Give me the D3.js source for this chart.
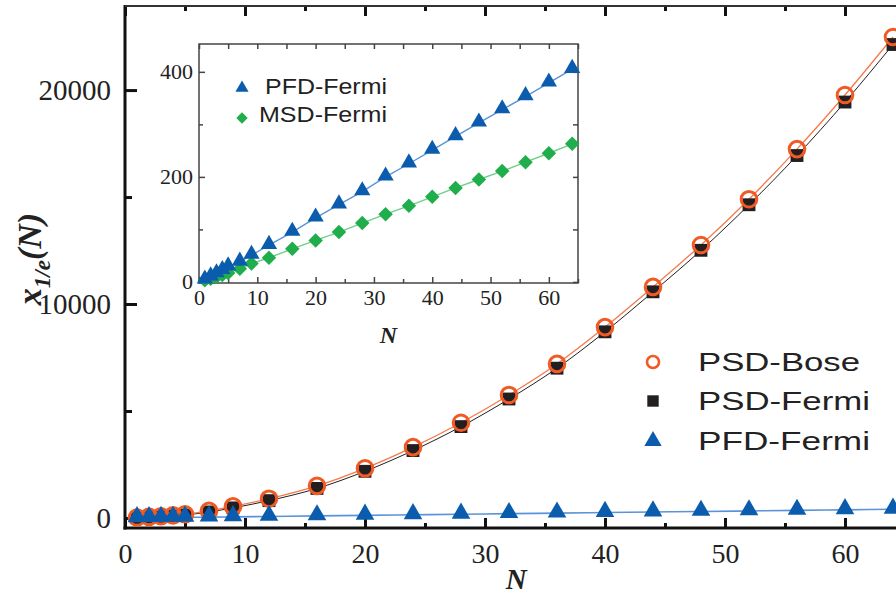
<!DOCTYPE html>
<html>
<head>
<meta charset="utf-8">
<script src="https://cdn.jsdelivr.net/npm/d3@7"></script>
<style>
  html, body { margin: 0; padding: 0; background: #fff; }
  svg { display: block; }
  .serif { font-family: "Liberation Serif", "DejaVu Serif", serif; }
  .sans { font-family: "Liberation Sans", Arial, sans-serif; }
</style>
</head>
<body>
<svg id="chart" width="896" height="597"></svg>
<script>
// Particle number N at which each quantity is evaluated
const nValues = [1, 2, 3, 4, 5, 7, 9, 12, 16, 20, 24, 28, 32, 36, 40, 44, 48, 52, 56, 60, 64];

// x_{1/e}(N) for each distribution
const psdBose  = [20, 50, 80, 120, 170, 330, 540, 900, 1500, 2320, 3310, 4450, 5750, 7200, 8920, 10800, 12760, 14900, 17240, 19770, 22480];
const psdFermi = [10, 35, 60, 95, 140, 280, 470, 810, 1380, 2180, 3150, 4270, 5560, 7000, 8700, 10570, 12510, 14640, 16940, 19440, 22130];
const pfdFermi = [4, 10, 16, 22, 29, 38, 51, 70, 95, 122, 147, 172, 200, 225, 251, 277, 303, 328, 353, 379, 405];
const msdFermi = [3, 6, 10, 13, 17, 25, 35, 46, 63, 79, 95, 112, 129, 145, 162, 179, 195, 211, 228, 245, 263];

// Tick values
const mainXTicks = [0, 10, 20, 30, 40, 50, 60];
const mainXMinor = [5, 15, 25, 35, 45, 55, 65];
const mainYTicks = [0, 10000, 20000];
const mainYMinor = [5000, 15000];
const insetXTicks = [0, 10, 20, 30, 40, 50, 60];
const insetXMinor = [5, 15, 25, 35, 45, 55, 65];
const insetYTicks = [0, 200, 400];
const insetYMinor = [100, 300];

const mainLegend = ["PSD-Bose", "PSD-Fermi", "PFD-Fermi"];
const insetLegend = ["PFD-Fermi", "MSD-Fermi"];

const C = {
  orange: "#f15a24",
  orangeLine: "#f47a4a",
  black: "#231f20",
  blue: "#0b5cad",
  blueLine: "#5b93d8",
  green: "#1fae4b",
  greenLine: "#6fcf8a"
};

const svg = d3.select("#chart");

// ---------- main panel ----------
const x = d3.scaleLinear().domain([0, 70]).range([125, 965]);
const y = d3.scaleLinear().domain([-470, 23930]).range([528, 6]);

const main = svg.append("g");

function styleAxis(g, width, color) {
  g.select(".domain").remove();
  g.selectAll(".tick line").attr("stroke", color).attr("stroke-width", width);
}

// bottom axis with labels (ticks point inward)
main.append("g")
  .attr("transform", `translate(0,${y.range()[0]})`)
  .call(d3.axisBottom(x).tickValues(mainXTicks).tickSizeInner(-10).tickSizeOuter(0).tickPadding(15))
  .call(g => styleAxis(g, 3, "#111"))
  .call(g => g.selectAll("text").attr("class", "serif").attr("font-size", 28).attr("fill", "#222"));
main.append("g")
  .attr("transform", `translate(0,${y.range()[0]})`)
  .call(d3.axisBottom(x).tickValues(mainXMinor).tickSizeInner(-5).tickSizeOuter(0).tickFormat(""))
  .call(g => styleAxis(g, 3, "#111"));

// top axis (ticks only)
main.append("g")
  .attr("transform", `translate(0,${y.range()[1]})`)
  .call(d3.axisTop(x).tickValues(mainXTicks).tickSizeInner(-10).tickSizeOuter(0).tickFormat(""))
  .call(g => styleAxis(g, 3, "#111"));
main.append("g")
  .attr("transform", `translate(0,${y.range()[1]})`)
  .call(d3.axisTop(x).tickValues(mainXMinor).tickSizeInner(-5).tickSizeOuter(0).tickFormat(""))
  .call(g => styleAxis(g, 3, "#111"));

// left axis with labels
main.append("g")
  .attr("transform", `translate(${x.range()[0]},0)`)
  .call(d3.axisLeft(y).tickValues(mainYTicks).tickSizeInner(-12).tickSizeOuter(0).tickPadding(14).tickFormat(d3.format("d")))
  .call(g => styleAxis(g, 3, "#111"))
  .call(g => g.selectAll("text").attr("class", "serif").attr("font-size", 29).attr("fill", "#222"));
main.append("g")
  .attr("transform", `translate(${x.range()[0]},0)`)
  .call(d3.axisLeft(y).tickValues(mainYMinor).tickSizeInner(-7).tickSizeOuter(0).tickFormat(""))
  .call(g => styleAxis(g, 3, "#111"));

// frame lines
main.append("line").attr("x1", x.range()[0]).attr("x2", x.range()[0])
  .attr("y1", y.range()[1] - 1).attr("y2", y.range()[0] + 1.5)
  .attr("stroke", "#111").attr("stroke-width", 3);
main.append("line").attr("x1", x.range()[0] - 1.5).attr("x2", x.range()[1])
  .attr("y1", y.range()[0]).attr("y2", y.range()[0])
  .attr("stroke", "#111").attr("stroke-width", 3);
main.append("line").attr("x1", x.range()[0]).attr("x2", x.range()[1])
  .attr("y1", y.range()[1]).attr("y2", y.range()[1])
  .attr("stroke", "#333").attr("stroke-width", 2);

// axis titles
svg.append("text").attr("class", "serif")
  .attr("x", x(32.6)).attr("y", 589)
  .attr("text-anchor", "middle")
  .attr("font-size", 29).attr("font-weight", "bold").attr("font-style", "italic")
  .attr("fill", "#222").text("N");

const yTitle = svg.append("text").attr("class", "serif")
  .attr("transform", "translate(41,259) rotate(-90)")
  .attr("text-anchor", "middle")
  .attr("font-size", 34).attr("font-weight", "bold").attr("font-style", "italic")
  .attr("fill", "#222");
yTitle.append("tspan").text("x");
yTitle.append("tspan").attr("font-size", 23).attr("dy", 9).text("1/e");
yTitle.append("tspan").attr("dy", -9).text("(N)");

// series
const rows = nValues.map((n, i) => ({ n, bose: psdBose[i], fermi: psdFermi[i], pfd: pfdFermi[i], msd: msdFermi[i] }));

const lineMain = key => d3.line().x(d => x(d.n)).y(d => y(d[key])).curve(d3.curveMonotoneX);

main.append("path").datum(rows).attr("d", lineMain("pfd"))
  .attr("fill", "none").attr("stroke", C.blueLine).attr("stroke-width", 1.6);
main.append("path").datum(rows).attr("d", lineMain("fermi"))
  .attr("fill", "none").attr("stroke", C.black).attr("stroke-width", 1);
main.append("path").datum(rows).attr("d", lineMain("bose"))
  .attr("fill", "none").attr("stroke", C.orangeLine).attr("stroke-width", 1.3);

const tri = d3.symbol().type(d3.symbolTriangle);
const sq = d3.symbol().type(d3.symbolSquare);

// squares (PSD-Fermi)
main.selectAll(".sq").data(rows).join("path")
  .attr("transform", d => `translate(${x(d.n)},${y(d.fermi)})`)
  .attr("d", sq.size(165)())
  .attr("fill", C.black);
// circles (PSD-Bose)
main.selectAll(".circ").data(rows).join("circle")
  .attr("cx", d => x(d.n)).attr("cy", d => y(d.bose)).attr("r", 7.8)
  .attr("fill", "none").attr("stroke", C.orange).attr("stroke-width", 3);
// triangles (PFD-Fermi)
main.selectAll(".tri").data(rows).join("path")
  .attr("transform", d => `translate(${x(d.n)},${y(d.pfd) - 1})`)
  .attr("d", tri.size(150)())
  .attr("fill", C.blue);

// main legend
const lg = svg.append("g");
const legendY = [362, 401, 441];
lg.append("circle").attr("cx", 653).attr("cy", legendY[0]).attr("r", 6)
  .attr("fill", "none").attr("stroke", C.orange).attr("stroke-width", 2.6);
lg.append("path").attr("transform", `translate(653,${legendY[1]})`).attr("d", sq.size(130)()).attr("fill", C.black);
lg.append("path").attr("transform", `translate(653,${legendY[2]})`).attr("d", tri.size(130)()).attr("fill", C.blue);
const legendWidths = [162, 172, 172];
mainLegend.forEach((t, i) => {
  lg.append("text").attr("class", "sans")
    .attr("x", 698).attr("y", legendY[i] + 9)
    .attr("font-size", 26).attr("fill", "#222")
    .attr("textLength", legendWidths[i]).attr("lengthAdjust", "spacingAndGlyphs")
    .text(t);
});

// ---------- inset panel ----------
const xi = d3.scaleLinear().domain([0, 65]).range([199, 578]);
const yi = d3.scaleLinear().domain([-2, 453]).range([283, 44]);

const inset = svg.append("g");
inset.append("rect")
  .attr("x", xi.range()[0]).attr("y", yi.range()[1])
  .attr("width", xi.range()[1] - xi.range()[0]).attr("height", yi.range()[0] - yi.range()[1])
  .attr("fill", "#fff").attr("stroke", "#444").attr("stroke-width", 1.5);

const ic = "#444";
inset.append("g").attr("transform", `translate(0,${yi.range()[0]})`)
  .call(d3.axisBottom(xi).tickValues(insetXTicks).tickSizeInner(-6).tickSizeOuter(0).tickPadding(6))
  .call(g => styleAxis(g, 1.5, ic))
  .call(g => g.selectAll("text").attr("class", "serif").attr("font-size", 22).attr("fill", "#222"));
inset.append("g").attr("transform", `translate(0,${yi.range()[0]})`)
  .call(d3.axisBottom(xi).tickValues(insetXMinor).tickSizeInner(-4).tickSizeOuter(0).tickFormat(""))
  .call(g => styleAxis(g, 1.5, ic));
inset.append("g").attr("transform", `translate(0,${yi.range()[1]})`)
  .call(d3.axisTop(xi).tickValues(insetXTicks.concat(insetXMinor)).tickSizeInner(-5).tickSizeOuter(0).tickFormat(""))
  .call(g => styleAxis(g, 1.5, ic));
inset.append("g").attr("transform", `translate(${xi.range()[0]},0)`)
  .call(d3.axisLeft(yi).tickValues(insetYTicks).tickSizeInner(-6).tickSizeOuter(0).tickPadding(6))
  .call(g => styleAxis(g, 1.5, ic))
  .call(g => g.selectAll("text").attr("class", "serif").attr("font-size", 22).attr("fill", "#222"));
inset.append("g").attr("transform", `translate(${xi.range()[0]},0)`)
  .call(d3.axisLeft(yi).tickValues(insetYMinor).tickSizeInner(-4).tickSizeOuter(0).tickFormat(""))
  .call(g => styleAxis(g, 1.5, ic));
inset.append("g").attr("transform", `translate(${xi.range()[1]},0)`)
  .call(d3.axisRight(yi).tickValues(insetYTicks.concat(insetYMinor)).tickSizeInner(-5).tickSizeOuter(0).tickFormat(""))
  .call(g => styleAxis(g, 1.5, ic));

inset.append("text").attr("class", "serif")
  .attr("x", xi(32.5)).attr("y", 343)
  .attr("text-anchor", "middle")
  .attr("font-size", 24).attr("font-weight", "bold").attr("font-style", "italic")
  .attr("fill", "#222").text("N");

const insetRows = [{ n: 0, pfd: 0, msd: 0 }].concat(rows);
const lineInset = key => d3.line().x(d => xi(d.n)).y(d => yi(d[key]));
inset.append("path").datum(insetRows).attr("d", lineInset("pfd"))
  .attr("fill", "none").attr("stroke", C.blueLine).attr("stroke-width", 1.4);
inset.append("path").datum(insetRows).attr("d", lineInset("msd"))
  .attr("fill", "none").attr("stroke", C.greenLine).attr("stroke-width", 1.4);

inset.selectAll(".dia").data(rows).join("path")
  .attr("transform", d => `translate(${xi(d.n)},${yi(d.msd)}) rotate(45)`)
  .attr("d", sq.size(105)())
  .attr("fill", C.green);
inset.selectAll(".itri").data(rows).join("path")
  .attr("transform", d => `translate(${xi(d.n)},${yi(d.pfd) - 1})`)
  .attr("d", tri.size(115)())
  .attr("fill", C.blue);

// inset legend
inset.append("path").attr("transform", "translate(242,88)").attr("d", tri.size(75)()).attr("fill", C.blue);
inset.append("path").attr("transform", "translate(242,118) rotate(45)").attr("d", sq.size(65)()).attr("fill", C.green);
const insetLegendX = [265, 259];
const insetLegendY = [94, 122];
const insetLegendW = [122, 128];
insetLegend.forEach((t, i) => {
  inset.append("text").attr("class", "sans")
    .attr("x", insetLegendX[i]).attr("y", insetLegendY[i])
    .attr("font-size", 22).attr("fill", "#222")
    .attr("textLength", insetLegendW[i]).attr("lengthAdjust", "spacingAndGlyphs")
    .text(t);
});
</script>
</body>
</html>
